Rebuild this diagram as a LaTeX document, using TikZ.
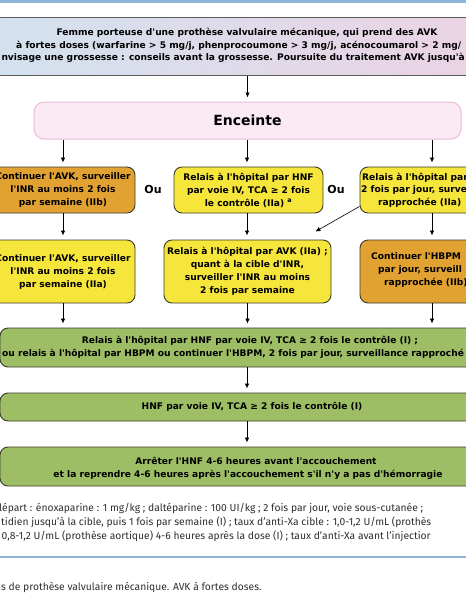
\documentclass[tikz,border=0pt]{standalone}
\usepackage{fontspec}
\setmainfont{Fira Sans}
\newfontfamily\boxfont{DejaVu Sans}
\usepackage{tikz}
\usetikzlibrary{positioning,arrows.meta}

\definecolor{bandblue}{HTML}{8EB4DB}
\definecolor{topleft}{HTML}{D2E2EF}
\definecolor{topright}{HTML}{EDD2E3}
\definecolor{pinkfill}{HTML}{FBEAF4}
\definecolor{pinkline}{HTML}{E9BCD8}
\definecolor{orangefill}{HTML}{E2A232}
\definecolor{yellowfill}{HTML}{F6E53A}
\definecolor{greenfill}{HTML}{9DBE64}
\definecolor{boxline}{HTML}{3B3B2E}
\definecolor{notegray}{HTML}{2E2E2E}

\begin{document}
\begin{tikzpicture}[x=1pt,y=-1pt,
		boxbase/.style={draw=boxline, line width=0.9pt, rounded corners=8pt, inner sep=0pt,
				align=center, font=\boxfont\fontsize{9.1}{13}\selectfont\bfseries},
		orangebox/.style={boxbase, fill=orangefill},
		yellowbox/.style={boxbase, fill=yellowfill},
		greenbox/.style={boxbase, fill=greenfill, minimum width=494pt},
		topbox/.style={draw=gray!70!black, line width=1pt, left color=topleft, right color=topright,
				minimum width=540pt, minimum height=58pt},
		pregbox/.style={draw=pinkline, line width=1pt, fill=pinkfill, rounded corners=10pt,
				minimum width=427pt, minimum height=37pt, font=\boxfont\fontsize{14}{17}\selectfont\bfseries},
		boldline/.style={inner sep=0pt, font=\boxfont\fontsize{9.1}{13}\selectfont\bfseries},
		noteline/.style={inner sep=0pt, text=notegray, font=\fontsize{10.3}{12}\selectfont},
		oulabel/.style={font=\boxfont\fontsize{11}{13}\selectfont\bfseries},
		ar/.style={-{Latex[length=5pt,width=4.5pt]}, line width=0.8pt, shorten >=4pt},
	]
	\useasboundingbox (0,0) rectangle (466,600);
	\clip (0,0) rectangle (466,600);
	\fill[bandblue] (0,0) rectangle (466,2.5);

	% patient
	\node[topbox] (top) at (247,46.5) {};
	\node[boldline] (t1) at (247,32.7) {Femme porteuse d'une prothèse valvulaire mécanique, qui prend des AVK};
	\node[boldline, anchor=west] (t2) at (16,45.7) {à fortes doses (warfarine > 5 mg/j, phenprocoumone > 3 mg/j, acénocoumarol > 2 mg/};
	\node[boldline, anchor=east] (t3) at (465,58.3) {nvisage une grossesse : conseils avant la grossesse. Poursuite du traitement AVK jusqu'à};

	\node[pregbox] (enc) at (247.5,120.5) {Enceinte};
	\draw[ar] (top.south -| enc) -- (enc.north);

	% first choice
	\node[orangebox, minimum width=144pt, minimum height=46pt] (la) at (63,190)
	{Continuer l'AVK, surveiller\\l'INR au moins 2 fois\\par semaine (IIb)};
	\node[yellowbox, minimum width=149pt, minimum height=46pt] (ma) at (248.5,190)
	{Relais à l'hôpital par HNF\\par voie IV, TCA ≥ 2 fois\\le contrôle (IIa) \textsuperscript{a}};
	\node[yellowbox, minimum width=146pt, minimum height=46pt] (ra) at (433,190) {};
	\node[boldline, anchor=west] (ra1) at (362,177.5) {Relais à l'hôpital par};
	\node[boldline, anchor=west] (ra2) at (361,190.5) {2 fois par jour, surve};
	\node[boldline, anchor=west] (ra3) at (378,203) {rapprochée (IIa)};
	\node[oulabel] (ou1) at (153,189) {Ou};
	\node[oulabel] (ou2) at (336,189) {Ou};

	\draw[ar] (la.north |- enc.south) -- (la.north);
	\draw[ar] ([xshift=-1.5pt]ma.north |- enc.south) -- ([xshift=-1.5pt]ma.north);
	\draw[ar] ([xshift=-1pt]ra.north |- enc.south) -- ([xshift=-1pt]ra.north);

	% second step
	\node[yellowbox, minimum width=144pt, minimum height=63pt] (lb) at (63,271.5)
	{Continuer l'AVK, surveiller\\l'INR au moins 2 fois\\par semaine (IIa)};
	\node[yellowbox, minimum width=167pt, minimum height=63pt] (mb) at (247.5,271.5)
	{Relais à l'hôpital par AVK (IIa) ;\\quant à la cible d'INR,\\surveiller l'INR au moins\\2 fois par semaine};
	\node[orangebox, minimum width=146pt, minimum height=63pt] (rb) at (433,271.5) {};
	\node[boldline, anchor=west] (rb1) at (371,256.5) {Continuer l'HBPM};
	\node[boldline, anchor=west] (rb2) at (378,270) {par jour, surveill};
	\node[boldline, anchor=west] (rb3) at (384,283) {rapprochée (IIb)};

	\draw[ar] (la) -- (lb);
	\draw[ar] ([xshift=-1.5pt]ma.south) -- ([xshift=-1.5pt]ma.south |- mb.north);
	\draw[ar] ([xshift=-1pt]ra.south) -- ([xshift=-1pt]rb.north);
	\draw[-{Latex[length=5pt,width=4.5pt]}, line width=0.6pt] ([yshift=7pt]ra.south west) -- ([shift={(-16pt,8pt)}]mb.north east);

	% hospital
	\node[greenbox, minimum height=39pt] (g1) at (247,347.5) {};
	\node[boldline] (g1a) at (250,340.5) {Relais à l'hôpital par HNF par voie IV, TCA ≥ 2 fois le contrôle (I) ;};
	\node[boldline, anchor=west] (g1b) at (2,353.5) {ou relais à l'hôpital par HBPM ou continuer l'HBPM, 2 fois par jour, surveillance rapproché};
	\draw[ar] (lb) -- (lb |- g1.north);
	\draw[ar] (mb) -- (mb |- g1.north);
	\draw[ar] ([xshift=-1pt]rb.south) -- ([xshift=-1pt]rb.south |- g1.north);

	\node[greenbox, minimum height=28pt] (g2) at (247,407) {};
	\node[boldline] (g2a) at (252,407) {HNF par voie IV, TCA ≥ 2 fois le contrôle (I)};
	\draw[ar] (g1) -- (g2);

	\node[greenbox, minimum height=39pt] (g3) at (247,466.5) {};
	\node[boldline] (g3a) at (256,461) {Arrêter l'HNF 4-6 heures avant l'accouchement};
	\node[boldline] (g3b) at (248,475) {et la reprendre 4-6 heures après l'accouchement s'il n'y a pas d'hémorragie};
	\draw[ar] (g2) -- (g3);

	% notes
	\node[noteline, anchor=west] (n1) at (-1,508) {lépart : énoxaparine : 1 mg/kg ; daltéparine : 100 UI/kg ; 2 fois par jour, voie sous-cutanée ;};
	\node[noteline, anchor=west] (n2) at (1,522) {tidien jusqu'à la cible, puis 1 fois par semaine (I) ; taux d'anti-Xa cible : 1,0-1,2 U/mL (prothès};
	\node[noteline, anchor=west] (n3) at (1.5,536) {0,8-1,2 U/mL (prothèse aortique) 4-6 heures après la dose (I) ; taux d'anti-Xa avant l'injectior};
	\draw[bandblue, line width=1.5pt] (0,557) -- (466,557);
	\node[noteline, anchor=west] (n4) at (1,587) {s de prothèse valvulaire mécanique. AVK à fortes doses.};
\end{tikzpicture}
\end{document}
